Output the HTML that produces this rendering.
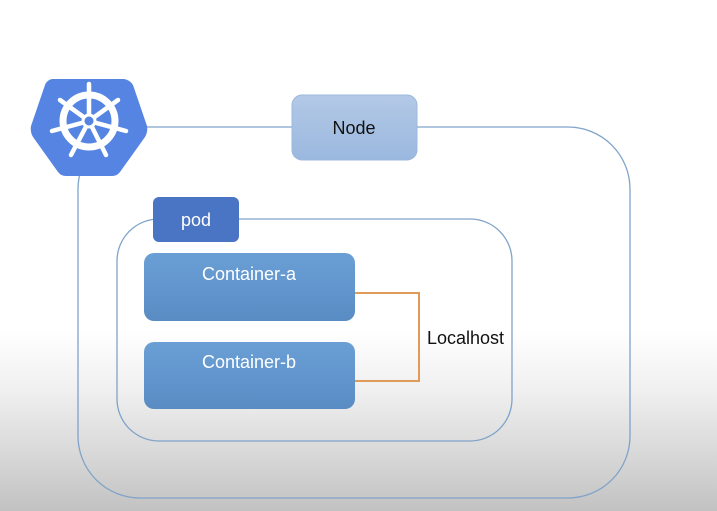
<!DOCTYPE html>
<html><head><meta charset="utf-8"><style>
html,body{margin:0;padding:0;}
body{width:717px;height:511px;overflow:hidden;background:linear-gradient(to bottom,#fff 0px,#fff 330px,#f0f0f0 390px,#d6d6d6 460px,#c2c2c2 511px);}
svg{display:block}
text{font-family:"Liberation Sans",sans-serif;}
</style></head><body>
<svg width="717" height="511" viewBox="0 0 717 511" xmlns="http://www.w3.org/2000/svg">
<defs>
<linearGradient id="gn" x1="0" y1="0" x2="0" y2="1"><stop offset="0" stop-color="#b3c9e6"/><stop offset="1" stop-color="#9ab8df"/></linearGradient>
<linearGradient id="gc" x1="0" y1="0" x2="0" y2="1"><stop offset="0" stop-color="#6a9fd6"/><stop offset="1" stop-color="#5a8cc4"/></linearGradient>
</defs>
<rect x="78" y="127" width="552" height="371" rx="62" fill="none" stroke="#7fa3c9" stroke-width="1.3"/>
<rect x="117" y="219" width="395" height="222" rx="42" fill="none" stroke="#7fa3c9" stroke-width="1.3"/>
<!-- logo -->
<path d="M52,79 L124,79 Q130,80 133,85 L147,126 Q148,132 145,137 L120,172 Q117,176 112,176 L66,176 Q61,176 58,172 L33,137 Q30,132 31,126 L45,85 Q47,80 52,79 Z" fill="#5584e2"/>
<g stroke="#fff" stroke-linecap="round" fill="none">
<circle cx="89" cy="121" r="26" stroke-width="7"/>
<g stroke-width="4.5">
<line x1="89" y1="121" x2="89" y2="84"/>
<line x1="89" y1="121" x2="118" y2="100"/>
<line x1="89" y1="121" x2="126" y2="131"/>
<line x1="89" y1="121" x2="106" y2="155"/>
<line x1="89" y1="121" x2="71" y2="155"/>
<line x1="89" y1="121" x2="52" y2="131"/>
<line x1="89" y1="121" x2="60" y2="100"/>
</g>
</g>
<circle cx="89" cy="121" r="6" fill="#5584e2" stroke="#fff" stroke-width="3"/>
<!-- node -->
<rect x="292" y="95" width="125" height="65" rx="10" fill="url(#gn)" stroke="#9db8dc"/>
<text x="354" y="134" font-size="18" text-anchor="middle" fill="#111">Node</text>
<!-- pod -->
<rect x="153" y="197" width="86" height="45" rx="6" fill="#4a74c4"/>
<text x="196" y="226" font-size="18" text-anchor="middle" fill="#fff">pod</text>
<!-- containers -->
<rect x="144" y="253" width="211" height="68" rx="10" fill="url(#gc)"/>
<text x="249" y="280" font-size="18" text-anchor="middle" fill="#fff">Container-a</text>
<rect x="144" y="342" width="211" height="67" rx="10" fill="url(#gc)"/>
<text x="249" y="368" font-size="18" text-anchor="middle" fill="#fff">Container-b</text>
<polyline points="355,293 419,293 419,381 355,381" fill="none" stroke="#e09a5a" stroke-width="2"/>
<text x="427" y="344" font-size="18" fill="#111">Localhost</text>
</svg>
</body></html>
